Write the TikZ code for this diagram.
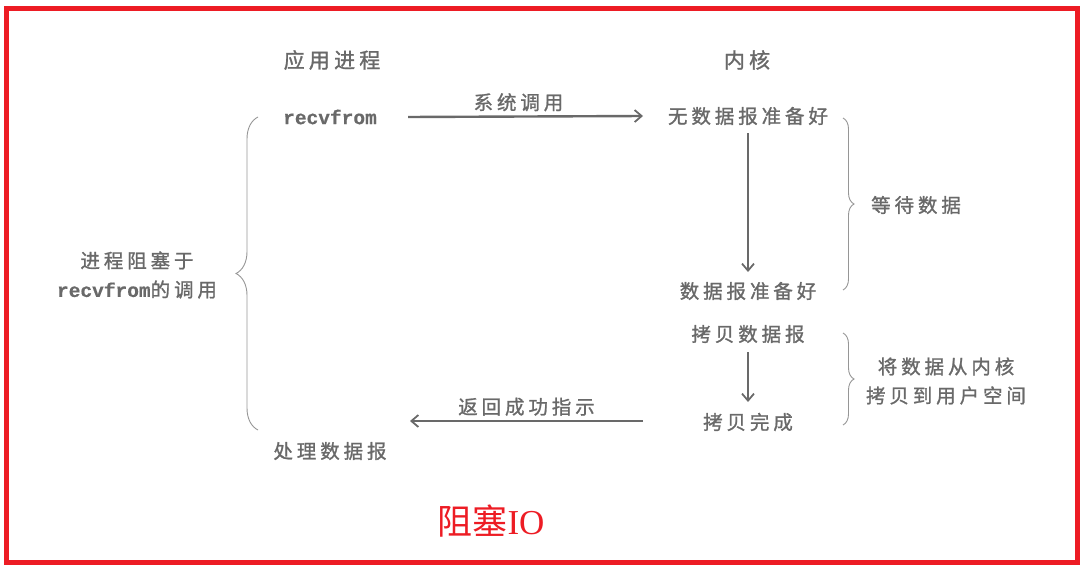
\documentclass[tikz,border=0pt]{standalone}
\usepackage{fontspec}
\newfontfamily\cjk[LetterSpace=20,FakeBold=1.2]{Noto Sans CJK SC}
\newfontfamily\cjkred{Noto Sans CJK SC}
\newfontfamily\mono[FakeBold=0.5]{Liberation Mono}
\newfontfamily\serifio{Liberation Serif}
\usetikzlibrary{arrows.meta,decorations.pathreplacing}
\definecolor{ink}{RGB}{105,105,105}
\definecolor{brc}{RGB}{150,150,150}
\definecolor{redb}{RGB}{237,28,36}
\begin{document}
\begin{tikzpicture}[x=1pt,y=-1pt,
  lbl/.style={inner sep=0pt, text=ink, font=\cjk\fontsize{19.5}{29}\selectfont, align=center},
  head/.style={inner sep=0pt, text=ink, font=\cjk\fontsize{21}{24}\selectfont},
  code/.style={inner sep=0pt, text=ink, font=\mono\bfseries\fontsize{19.5}{22}\selectfont},
  flow/.style={draw=ink, line width=2.4pt, -{Straight Barb[length=7pt,width=12pt,line width=1.8pt]}},
  bracestyle/.style={draw=brc, line width=0.9pt, decorate, decoration={brace, amplitude=#1}},
]
\useasboundingbox (0,0) rectangle (1083,570);
\draw[redb, line width=5pt] (6.5,8.5) rectangle (1077.5,562.5);

\node[head] (app) at (332,60) {应用进程};
\node[head] (kern) at (747,60) {内核};
\node[code] (recv) at (330,117) {recvfrom};
\node[lbl] (nodata) at (748,116) {无数据报准备好};
\node[lbl] (ready) at (748,291) {数据报准备好};
\node[lbl] (copy) at (748,334) {拷贝数据报};
\node[lbl] (done) at (748,422) {拷贝完成};
\node[lbl] (proc) at (330,451) {处理数据报};
\node[lbl] (wait) at (916,205) {等待数据};
\node[lbl] (copytxt) at (946,381) {将数据从内核\\拷贝到用户空间};
\node[lbl] (block) at (137,275) {进程阻塞于\\{\mono\bfseries recvfrom}的调用};
\node[inner sep=0pt, text=redb, font=\fontsize{35}{38}\selectfont] (title) at (491,521) {{\cjkred 阻塞}{\serifio IO}};

\coordinate (retend) at (410,421);
\draw[flow] ([xshift=78pt]recv.center) -- node[lbl, pos=0.47, above=4pt] {系统调用} ([xshift=-105pt]nodata.center);
\draw[flow] ([yshift=-17pt]nodata.center) -- ([yshift=19pt]ready.center);
\draw[flow] ([yshift=-18pt]copy.center) -- ([yshift=20pt]done.center);
\draw[flow] ([xshift=-105pt,yshift=1pt]done.center) -- node[lbl, pos=0.5, above=4pt] {返回成功指示} (retend);

\draw[bracestyle=11pt] (843,118) -- (843,290);
\draw[bracestyle=11pt] (843,333) -- (843,425);
\draw[bracestyle=22pt] (258,430) -- (258,117);
\end{tikzpicture}
\end{document}
